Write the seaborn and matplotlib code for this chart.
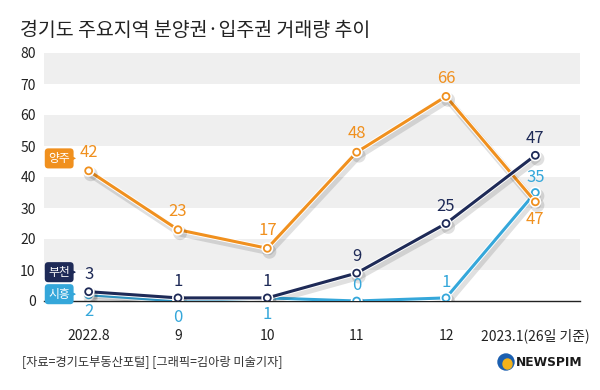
import matplotlib
matplotlib.use("Agg")
import matplotlib.pyplot as plt
import matplotlib.patheffects as pe
from matplotlib.patches import Ellipse, Wedge
import seaborn as sns
import pandas as pd

# ---- data ----
months = ["2022.8", "9", "10", "11", "12", "2023.1(26일 기준)"]
yangju = [42, 23, 17, 48, 66, 32]
yangju_labels = ["42", "23", "17", "48", "66", "47"]
bucheon = [3, 1, 1, 9, 25, 47]
bucheon_labels = ["3", "1", "1", "9", "25", "47"]
siheung = [2, 0, 1, 0, 1, 35]
siheung_labels = ["2", "0", "1", "0", "1", "35"]
series_names = ["양주", "부천", "시흥"]
title = "경기도 주요지역 분양권·입주권 거래량 추이"
source = "[자료=경기도부동산포털] [그래픽=김아랑 미술기자]"

sns.set_theme(style="white")
plt.rcParams['font.family'] = ['Noto Sans CJK KR', 'DejaVu Sans']

C_OR = "#F0901E"
C_NV = "#1E2A57"
C_LB = "#35A7DA"

fig = plt.figure(figsize=(6, 3.9), dpi=100)
ax = fig.add_axes([44/600, 1-301/390, (580-44)/600, (301-53)/390])

xpos = list(range(len(months)))
for lo in (10, 30, 50, 70):
    ax.axhspan(lo, lo + 10, color="#EFEFEF", lw=0, zorder=0)

label_style = {
    "양주": (yangju, yangju_labels, C_OR, [7, 7, 7, 7, 7, -19]),
    "부천": (bucheon, bucheon_labels, C_NV, [6, 6, 6, 6, 6, 6]),
    "시흥": (siheung, siheung_labels, C_LB, [-18, -18, -18, 5, 5, 5]),
}

order = ["시흥", "양주", "부천"]
for name in order:
    vals, labs, col, offs = label_style[name]
    df = pd.DataFrame({"x": xpos, "y": vals})
    sns.lineplot(data=df, x="x", y="y", ax=ax, color=col, lw=2.2,
                 marker="o", markersize=5, markerfacecolor="white",
                 markeredgecolor=col, markeredgewidth=1.3, zorder=3,
                 path_effects=[pe.SimpleLineShadow(offset=(1.5, -2.5), alpha=0.12,
                                                   shadow_color="black", linewidth=5),
                               pe.Stroke(linewidth=3.6, foreground="white"), pe.Normal()])
    for xi, yi, lab, off in zip(xpos, vals, labs, offs):
        ax.annotate(lab, (xi, yi), xytext=(0, off), textcoords="offset points",
                    ha="center", va="bottom", fontsize=12, color=col, zorder=5)

# series tags at left
tags = [("양주", 46, C_OR), ("부천", 9.3, C_NV), ("시흥", 2.2, C_LB)]
for name, yv, col in tags:
    ax.annotate(name, xy=(-0.14, yv), xytext=(-0.33, yv), textcoords="data",
                ha="center", va="center", fontsize=8.5, color="white", zorder=6,
                bbox=dict(boxstyle="round,pad=0.3,rounding_size=0.3", fc=col, ec="none"),
                arrowprops=dict(arrowstyle="-|>", color=col, lw=0.8, mutation_scale=6,
                                shrinkA=0, shrinkB=0),
                annotation_clip=False)

ax.set_xlim(-0.5, 5.5)
ax.set_ylim(0, 80)
ax.set_yticks(range(0, 81, 10))
ax.set_xticks(xpos)
ax.set_xticklabels(months)
ax.set_xticks([0.5, 1.5, 2.5, 3.5, 4.5, 5.5], minor=True)
ax.tick_params(axis="x", which="major", length=0, pad=20, labelsize=10, colors="#222222")
ax.tick_params(axis="x", which="minor", length=5, direction="in", color="#222222", width=1)
ax.tick_params(axis="y", length=0, pad=6, labelsize=10, colors="#222222")
ax.set_xlabel("")
ax.set_ylabel("")
for s in ("top", "left", "right"):
    ax.spines[s].set_visible(False)
ax.spines["bottom"].set_color("#222222")
ax.spines["bottom"].set_linewidth(1)
ax.spines["bottom"].set_zorder(2)

fig.text(20/600, 1-30/390, title, fontsize=14, color="#222222", ha="left", va="center")
fig.text(22/600, 1-362/390, source, fontsize=8.8, color="#333333", ha="left", va="center")

# NEWSPIM logo
lx, ly = 506/600, 1-362/390
fig.patches.append(Ellipse((lx, ly), 16/600, 16/390, transform=fig.transFigure,
                           color="#1B5FB0", zorder=5))
fig.patches.append(Ellipse((lx + 1.5/600, ly - 2/390), 9/600, 10/390, angle=0,
                           transform=fig.transFigure, color="#F2B21B", zorder=6))
fig.text(516/600, ly, "NEWSPIM", fontsize=8.8, fontweight="bold", color="#1A1A1A",
         ha="left", va="center", family=["DejaVu Sans"])

fig.savefig("out.png", dpi=100, facecolor="white")
